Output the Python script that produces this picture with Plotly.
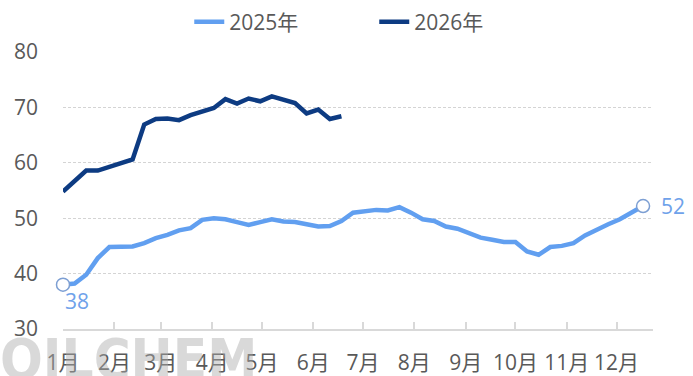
import pandas as pd
import plotly.graph_objects as go

# ---- data ----
week_start = "2025-01-01"
n_weeks = 51
series_2025_name = "2025年"
series_2026_name = "2026年"
values_2025 = [38.0, 38.2, 39.8, 42.8, 44.8, 44.9, 44.9, 45.5, 46.4, 47.0,
               47.8, 48.2, 49.7, 50.0, 49.8, 49.3, 48.8, 49.3, 49.8, 49.4,
               49.3, 48.9, 48.5, 48.6, 49.5, 51.0, 51.2, 51.5, 51.4, 52.0,
               51.0, 49.8, 49.5, 48.5, 48.1, 47.2, 46.5, 46.1, 45.7, 45.7,
               44.0, 43.4, 44.8, 45.0, 45.5, 46.9, 48.0, 48.9, 49.8, 51.0,
               52.2]
values_2026 = [54.8, 56.7, 58.6, 58.6, 59.3, 60.0, 60.6, 66.9, 67.9, 68.0,
               67.7, 68.6, 69.3, 69.9, 71.5, 70.7, 71.6, 71.1, 72.0, 71.5,
               70.8, 68.9, 69.6, 67.9, 68.4]
month_ticks = ["2025-%02d-01" % m for m in range(1, 13)]
month_labels = ["1月", "2月", "3月", "4月", "5月", "6月",
                "7月", "8月", "9月", "10月", "11月", "12月"]
y_ticks = [30, 40, 50, 60, 70, 80]
x_range = ["2025-01-01", "2025-12-23"]
y_range = [30, 80]

weeks = pd.date_range(week_start, periods=n_weeks, freq="7D")

# ---- styles ----
C25 = "#619ff0"
C26 = "#0d3b82"
GRAY = "#595959"
FONT = "Open Sans, Noto Sans CJK SC, sans-serif"
FS = 21

fig = go.Figure()

# watermark (drawn behind everything)
fig.add_annotation(text="<b>OILCHEM</b>", xref="paper", yref="paper",
                   x=-0.11, y=-0.105, xanchor="left", yanchor="middle",
                   showarrow=False,
                   font=dict(size=56, color="rgba(170,170,170,0.45)",
                             family="DejaVu Sans Condensed, DejaVu Sans, sans-serif"))

fig.add_trace(go.Scatter(
    x=weeks, y=values_2025, mode="lines", name=series_2025_name,
    line=dict(color=C25, width=4.5), cliponaxis=False))
fig.add_trace(go.Scatter(
    x=weeks[:len(values_2026)], y=values_2026, mode="lines", name=series_2026_name,
    line=dict(color=C26, width=4.5), cliponaxis=False))
# end-point markers
fig.add_trace(go.Scatter(
    x=[weeks[0], weeks[-1]], y=[values_2025[0], values_2025[-1]],
    mode="markers", showlegend=False,
    marker=dict(size=13, color="white", line=dict(color="#7d9fd3", width=1.5)),
    cliponaxis=False))
# end-point labels
for xv, yv, xs, ys in [(weeks[0], values_2025[0], 14, -16),
                       (weeks[-1], values_2025[-1], 30, 0)]:
    fig.add_annotation(x=xv, y=yv, text="%d" % round(yv), showarrow=False,
                       xanchor="center", yanchor="middle", xshift=xs, yshift=ys,
                       font=dict(color="#6fa2ea", size=FS, family=FONT))

fig.update_layout(
    width=693, height=376,
    margin=dict(l=63, r=40, t=52, b=47, autoexpand=False),
    paper_bgcolor="white", plot_bgcolor="white",
    font=dict(family=FONT, size=FS, color=GRAY),
    showlegend=True,
    legend=dict(orientation="h", x=0.214, xanchor="left", y=1.108, yanchor="middle",
                font=dict(size=FS, color=GRAY, family=FONT),
                entrywidth=140, bgcolor="rgba(0,0,0,0)", itemclick=False),
    xaxis=dict(type="date", range=x_range, tickvals=month_ticks, ticktext=month_labels,
               showgrid=False, showline=True, linecolor="#d9d9d9", linewidth=1.5,
               ticks="inside", ticklen=7, tickcolor="#d9d9d9", tickwidth=1.5,
               tickfont=dict(size=FS, color=GRAY), ticklabelstandoff=14,
               zeroline=False, automargin=False),
    yaxis=dict(range=y_range, tickvals=y_ticks, showgrid=True, gridcolor="#d4d4d4",
               griddash="3px,2px", gridwidth=1, showline=False, ticks="",
               tickfont=dict(size=FS, color=GRAY), ticklabelstandoff=24,
               zeroline=False, automargin=False),
)

fig.write_html("out.html")
